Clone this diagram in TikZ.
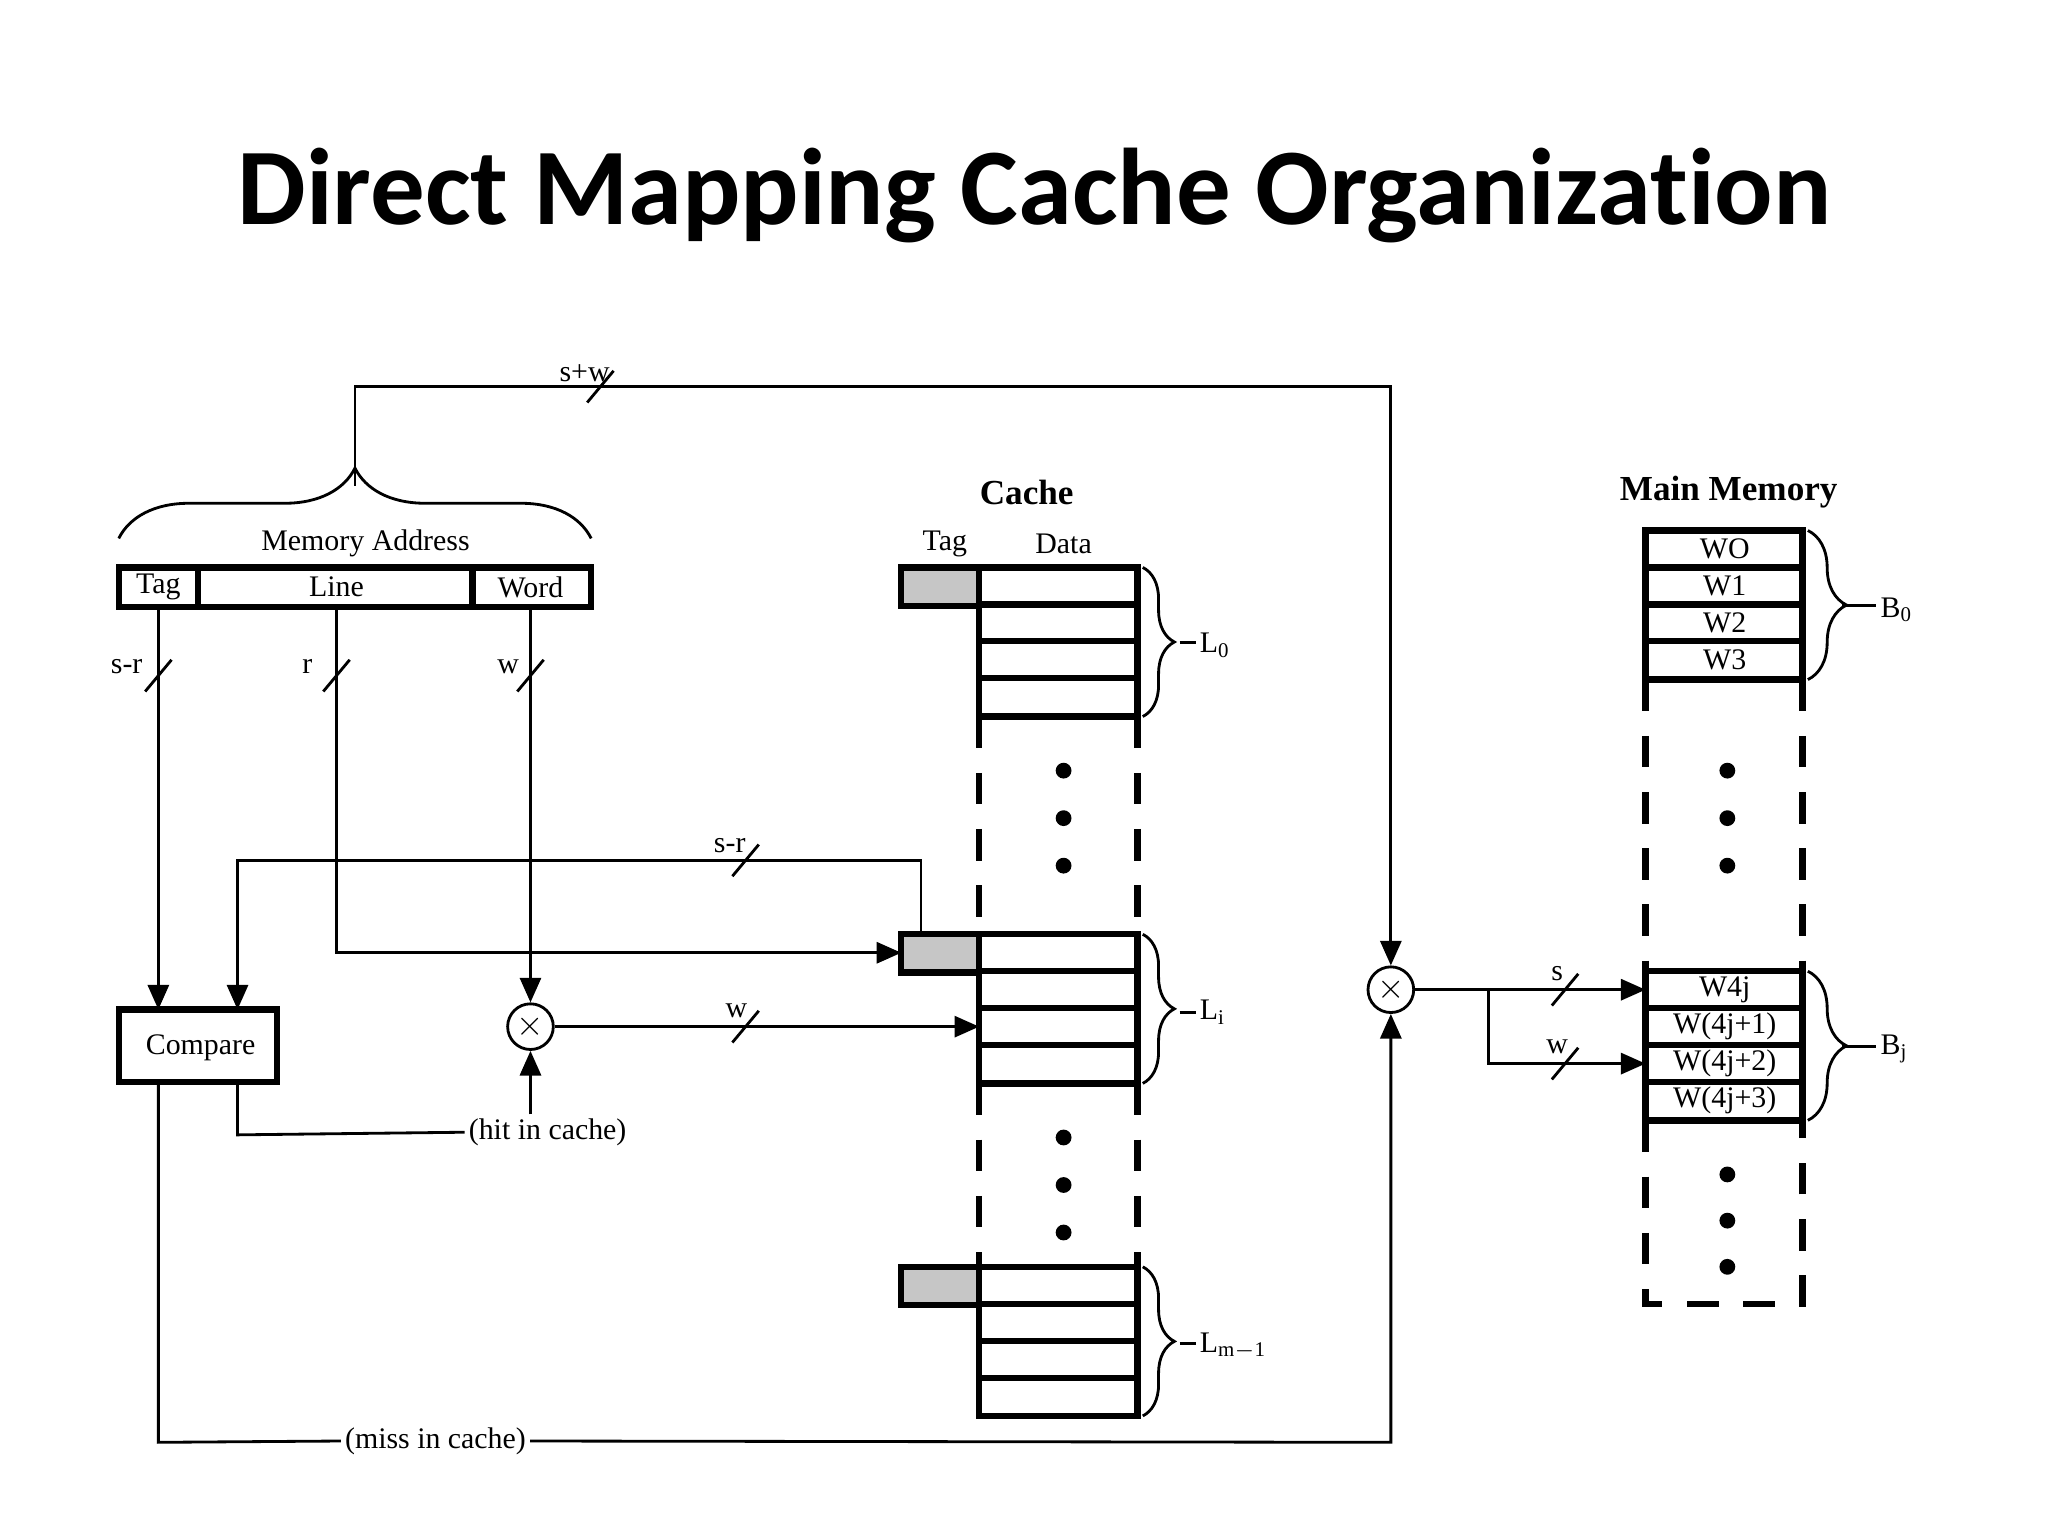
\documentclass[tikz,border=0pt]{standalone}
\usepackage{fontspec}
\setmainfont{Liberation Serif}
\newfontfamily\ttlfont{Carlito}[Ligatures={NoCommon}]
\usetikzlibrary{decorations.pathreplacing,arrows.meta}
\begin{document}
\begin{tikzpicture}[x=0.013196cm,y=-0.013196cm,
  ln/.style={line width=0.8pt},
  thk/.style={line width=1.8pt},
  arr/.style={ln,-{Triangle[length=7pt,width=6pt]}},
  txt/.style={font=\fontsize{8.5}{10}\selectfont,inner sep=1pt},
  dsh/.style={thk,dash pattern=on 9pt off 7pt},
  br/.style={ln,decorate,decoration={brace,amplitude=9pt}},
  dot/.style={circle,fill,inner sep=0pt,minimum size=4.5pt},
  mul/.style={circle,draw,ln,minimum size=13pt,inner sep=0pt}]
\useasboundingbox (0,0) rectangle (1552,1164);
\node[font=\ttlfont\bfseries\fontsize{31}{36}\selectfont] (title) at (784,148) {Direct Mapping Cache Organization};
% memory address
\draw[thk] (90,430) rectangle (448,460);
\draw[thk] (150,430) -- (150,460) (358,430) -- (358,460);
\node[txt] (tag) at (120,445) {Tag};
\node[txt] (line) at (255,445) {Line};
\node[txt] (word) at (402,445) {Word};
\node[txt] (ma) at (277,412) {Memory Address};
\draw[br,decoration={amplitude=20pt}] (90,408) -- (448,408);
\coordinate (tip) at (269,368);
\coordinate (c1) at (269,293);
\coordinate (c2) at (1054,293);
\node[mul] (m2) at (1054,750) {$\times$};
\draw[arr] (tip) -- (c1) -- (c2) -- (m2);
\draw[ln] (445,305) -- (465,281);
\node[txt] (lsw) at (443,283) {s+w};
% compare
\draw[thk] (90,765) rectangle (210,820);
\node[txt] (cmpt) at (152,794) {Compare};
\coordinate (ct) at (120,765);
\coordinate (ct2) at (180,765);
\draw[arr] (120,460) -- (ct);
\draw[ln] (110,524) -- (130,500); \node[txt] (l1) at (96,505) {s-r};
\draw[ln] (245,524) -- (265,500); \node[txt] (l2) at (233,505) {r};
\draw[ln] (392,524) -- (412,500); \node[txt] (l3) at (385,505) {w};
% cache
\node[font=\bfseries\fontsize{10}{12}\selectfont] (cache) at (778,373) {Cache};
\node[txt] (ctag) at (716,412) {Tag};
\node[txt] (cdata) at (806,412) {Data};
\foreach \y/\n in {430/0,708/i,960/m} {
  \draw[thk,fill=gray!45] (683,\y) rectangle (742,\y+29);
  \draw[thk] (742,\y) rectangle (862,\y+113);
  \foreach \k in {1,2,3} \draw[thk] (742,\y+28*\k) -- (862,\y+28*\k);
  \draw[br] (866,\y) -- (866,\y+113);
}
\node[txt,anchor=west] (L0) at (906,489) {L\textsubscript{0}};
\node[txt,anchor=west] (Li) at (906,767) {L\textsubscript{i}};
\node[txt,anchor=west] (Lm) at (906,1020) {L\textsubscript{m$-$1}};
\draw[dsh] (742,543) -- (742,708) (862,543) -- (862,708) (742,821) -- (742,960) (862,821) -- (862,960);
\foreach \y in {584,620,656,862,898,934} \node[dot] at (806,\y) {};
\coordinate (litag) at (683,722);
\draw[arr] (255,460) -- (255,722) -- (litag);
\coordinate (lit) at (698,708);
\draw[arr] (lit) -- (698,652) -- (180,652) -- (ct2);
\draw[ln] (555,664) -- (575,640); \node[txt] (l4) at (553,641) {s-r};
\node[mul] (m1) at (402,778) {$\times$};
\draw[arr] (402,460) -- (m1);
\coordinate (lid) at (742,778);
\draw[arr] (m1) -- (lid);
\draw[ln] (555,790) -- (575,766); \node[txt] (l5) at (558,766) {w};
\node[txt] (hit) at (415,858) {(hit in cache)};
\draw[arr] (hit.north -| m1) -- (m1);
\draw[ln] (180,820) -- (180,860) -- (hit.west);
\node[txt] (miss) at (330,1092) {(miss in cache)};
\draw[arr] (120,820) -- (120,1093) -- (miss.west) (miss.east) -- (1054,1093) -- (m2);
% main memory
\node[font=\bfseries\fontsize{10}{12}\selectfont] (mm) at (1310,373) {Main Memory};
\foreach \y in {402,736} {
  \draw[thk] (1247,\y) rectangle (1366,\y+113);
  \foreach \k in {1,2,3} \draw[thk] (1247,\y+28*\k) -- (1366,\y+28*\k);
  \draw[br,decoration={amplitude=11pt}] (1370,\y) -- (1370,\y+113);
}
\foreach \t [count=\k from 0] in {WO,W1,W2,W3} \node[txt] at (1307,416+28*\k) {\t};
\foreach \t [count=\k from 0] in {W4j,W(4j+1),W(4j+2),W(4j+3)} \node[txt] at (1307,750+28*\k) {\t};
\draw[ln] (1396,459) -- (1422,459);
\draw[ln] (1396,793) -- (1422,793);
\node[txt,anchor=west] (B0) at (1422,462) {B\textsubscript{0}};
\node[txt,anchor=west] (Bj) at (1422,795) {B\textsubscript{j}};
\draw[dsh] (1247,515) -- (1247,736) (1366,515) -- (1366,736) (1247,849) -- (1247,988) -- (1366,988) -- (1366,849);
\foreach \y in {584,620,656,890,925,960} \node[dot] at (1309,\y) {};
\coordinate (w4j) at (1247,750);
\coordinate (w4j2) at (1247,806);
\draw[arr] (m2) -- (w4j);
\draw[arr] (1128,750) -- (1128,806) -- (w4j2);
\draw[ln] (1176,762) -- (1196,738); \node[txt] (l6) at (1180,738) {s};
\draw[ln] (1176,818) -- (1196,794); \node[txt] (l7) at (1180,793) {w};
\draw[ln] (894,487) -- (906,487) (894,767) -- (906,767) (894,1018) -- (906,1018);
\end{tikzpicture}
\end{document}
